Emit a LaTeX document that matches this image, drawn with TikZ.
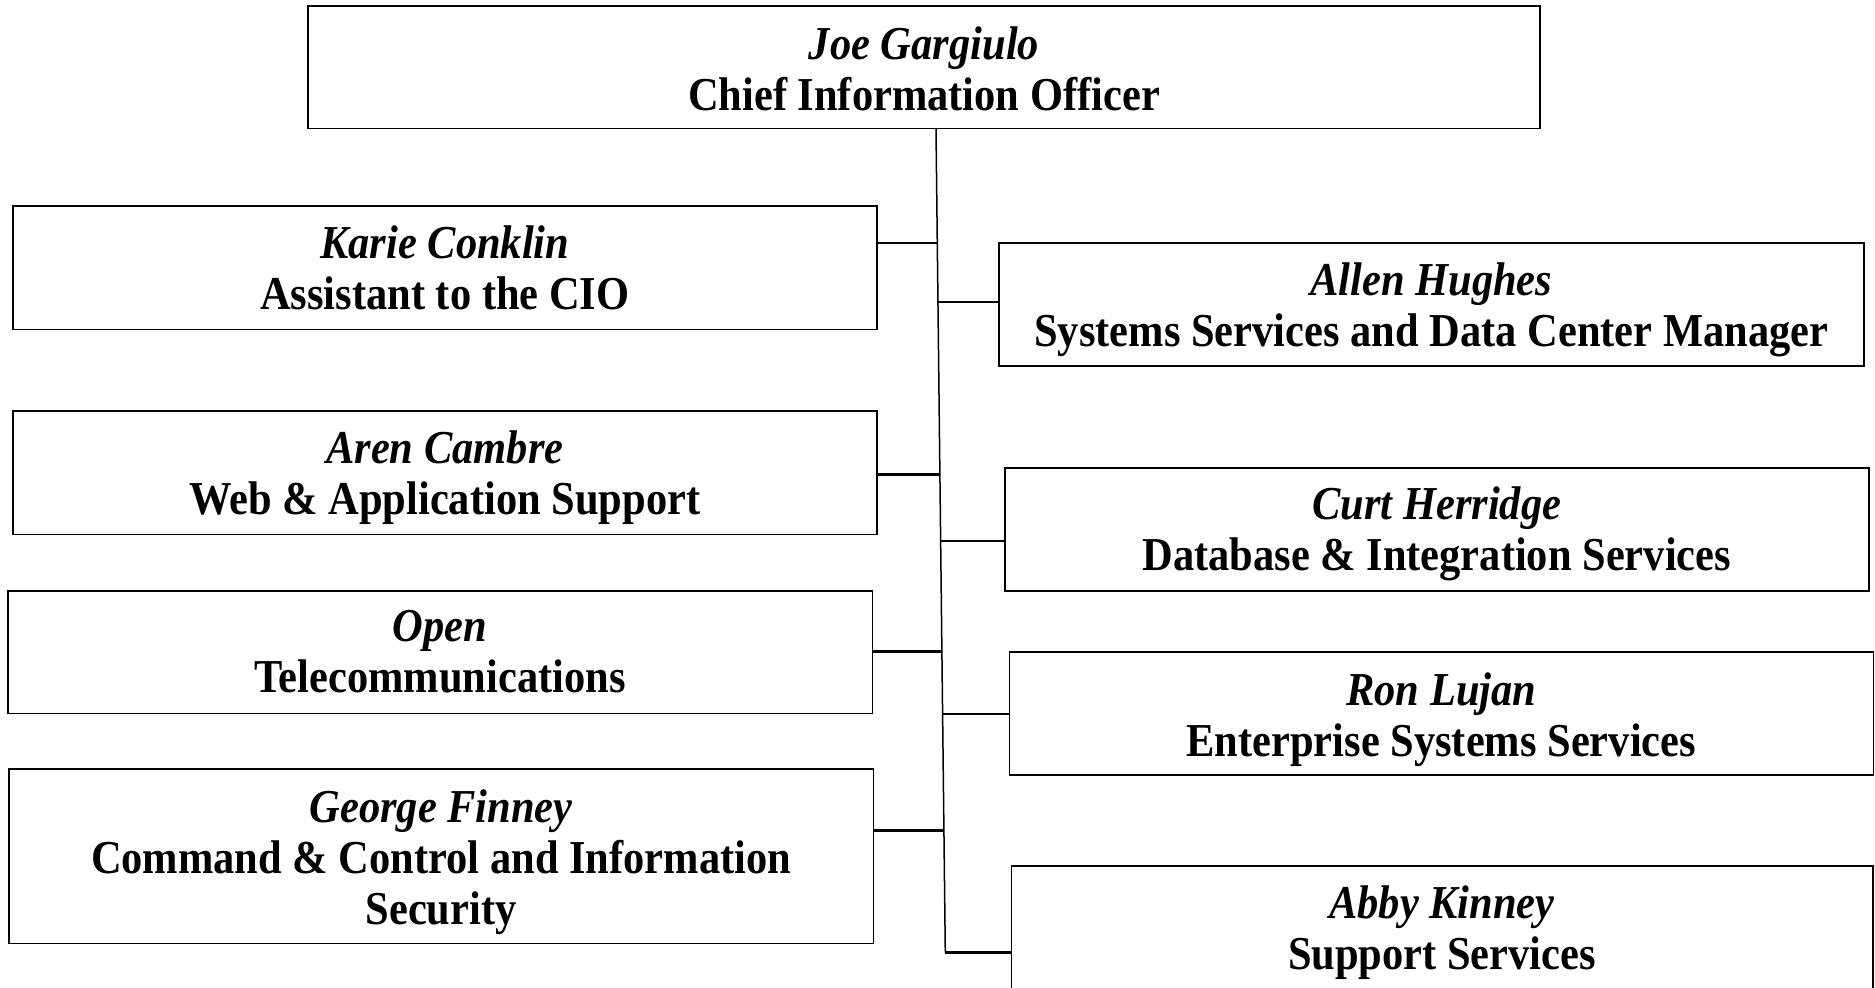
\documentclass[tikz,border=0pt]{standalone}
\usepackage{fontspec}
\setmainfont[FakeStretch=0.9]{Liberation Serif}
\newcommand{\lowr}[1]{\rule{0pt}{#1}}
\begin{document}
\begin{tikzpicture}[x=0.5pt,y=-0.5pt,
  box/.style={draw, line width=0.8pt, align=center, inner sep=0pt,
    font=\fontsize{23.6}{25.5}\selectfont\bfseries},
  lconn/.style={line width=1.3pt},
  rconn/.style={line width=0.85pt},
  spine/.style={line width=0.75pt}]
\useasboundingbox (0,0) rectangle (1875,987);
\clip (0,0) rectangle (1875,987);

\node[box, minimum width=616pt, minimum height=61.15pt] (top) at (924,67.15)
  {\lowr{18.5pt}\textit{Joe Gargiulo}\\Chief Information Officer};
\node[box, minimum width=432.15pt, minimum height=61.65pt] (karie) at (444.85,267.65)
  {\textit{Karie Conklin}\\Assistant to the CIO};
\node[box, minimum width=432.15pt, minimum height=61.65pt] (aren) at (444.85,472.65)
  {\lowr{21.1pt}\textit{Aren Cambre}\\Web \& Application Support};
\node[box, minimum width=432.15pt, minimum height=61.3pt] (open) at (440.15,652)
  {\textit{Open}\\Telecommunications};
\node[box, minimum width=432.15pt, minimum height=87.15pt] (george) at (441.15,856.15)
  {\lowr{22pt}\textit{George Finney}\\Command \& Control and Information\\Security};
\node[box, minimum width=432.35pt, minimum height=61.5pt] (allen) at (1431.35,304.2)
  {\lowr{22.1pt}\textit{Allen Hughes}\\Systems Services and Data Center Manager};
\node[box, minimum width=432pt, minimum height=61.5pt] (curt) at (1436.7,529.2)
  {\lowr{21.1pt}\textit{Curt Herridge}\\Database \& Integration Services};
\node[box, minimum width=432pt, minimum height=61.5pt] (ron) at (1441.3,713.5)
  {\lowr{22.1pt}\textit{Ron Lujan}\\Enterprise Systems Services};
\node[box, minimum width=430.7pt, minimum height=61.5pt] (abby) at (1442,927.5)
  {\lowr{21.1pt}\textit{Abby Kinney}\\Support Services};

% spine
\coordinate (sTop) at ([xshift=6pt]top.south);
\coordinate (sBot) at (945.3,952.7);
\coordinate (pk) at (937.3,243);
\coordinate (pal) at (937.96,301.7);
\coordinate (par) at (939.9,474.3);
\coordinate (pc) at (940.65,540.7);
\coordinate (po) at (941.9,651.7);
\coordinate (pr) at (942.6,714);
\coordinate (pg) at (943.9,830.7);

\draw[spine] (sTop) -- (sBot);

\draw[lconn] (karie.east |- pk) -- (pk);
\draw[lconn] (aren.east |- par) -- (par);
\draw[lconn] (open.east |- po) -- (po);
\draw[lconn] (george.east |- pg) -- (pg);

\draw[rconn] (pal) -- (allen.west |- pal);
\draw[rconn] (pc) -- (curt.west |- pc);
\draw[rconn] (pr) -- (ron.west |- pr);
\draw[lconn] (sBot) -- (abby.west |- sBot);
\end{tikzpicture}
\end{document}
